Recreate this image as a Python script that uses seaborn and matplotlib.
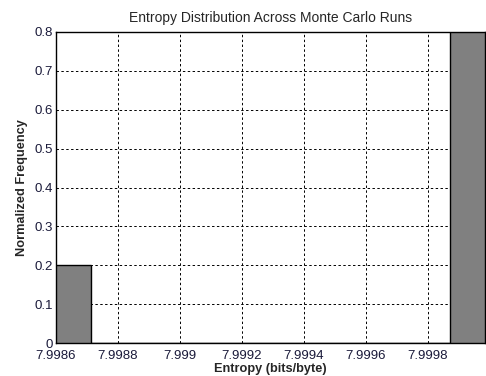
import matplotlib
matplotlib.use("Agg")
import matplotlib.pyplot as plt
import seaborn as sns
import numpy as np

# Histogram bins (entropy in bits/byte) and normalized counts
bin_edges = [7.9986, 7.998713, 7.999871, 7.999984]
frequencies = [0.2, 0.0, 0.8]
x_ticks = [7.9986, 7.9988, 7.9990, 7.9992, 7.9994, 7.9996, 7.9998]
x_tick_labels = ["7.9986", "7.9988", "7.999", "7.9992", "7.9994", "7.9996", "7.9998"]
y_ticks = [0, 0.1, 0.2, 0.3, 0.4, 0.5, 0.6, 0.7, 0.8]
y_tick_labels = ["0", "0.1", "0.2", "0.3", "0.4", "0.5", "0.6", "0.7", "0.8"]

sns.set_style("white")
plt.rcParams["font.family"] = ["Liberation Sans", "DejaVu Sans"]

fig = plt.figure(figsize=(4.86, 3.76), dpi=100)
ax = fig.add_axes([56 / 486, 33 / 376, (485 - 56) / 486, (343 - 32) / 376])

centers = [(bin_edges[i] + bin_edges[i + 1]) / 2 for i in range(len(frequencies))]
sns.histplot(x=centers, weights=frequencies, bins=bin_edges, ax=ax,
             color="#808080", alpha=1.0, edgecolor="black", linewidth=1.0,
             zorder=3)

ax.set_xlim(7.9986, 7.999984)
ax.set_ylim(0, 0.8)
ax.set_xticks(x_ticks)
ax.set_xticklabels(x_tick_labels)
ax.set_yticks(y_ticks)
ax.set_yticklabels(y_tick_labels)

ax.grid(True, color="black", linestyle=(0, (2.5, 2.5)), linewidth=0.7, zorder=1)
ax.set_axisbelow(True)
for sp in ax.spines.values():
    sp.set_color("black")
    sp.set_linewidth(1.0)

ax.tick_params(axis="both", direction="in", length=3, labelsize=9.5,
               colors="black", pad=2, labelcolor="#1a1a3a")
ax.tick_params(axis="x", pad=5)

ax.set_title("Entropy Distribution Across Monte Carlo Runs", fontsize=10, pad=7)
ax.set_xlabel("Entropy (bits/byte)", fontsize=9.2, fontweight="bold", labelpad=1)
ax.set_ylabel("Normalized Frequency", fontsize=9.2, fontweight="bold", labelpad=5)

fig.savefig("out.png", dpi=100)
